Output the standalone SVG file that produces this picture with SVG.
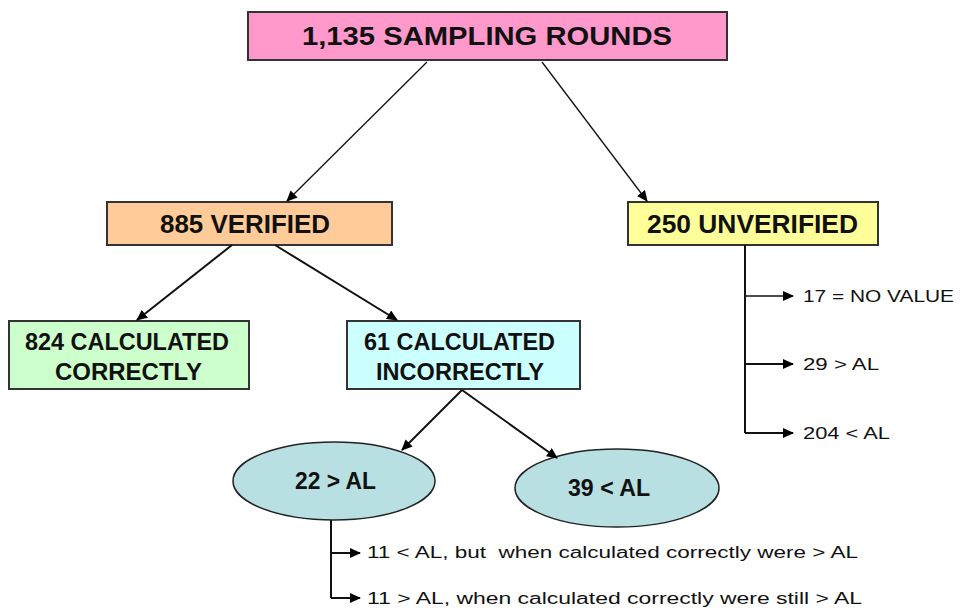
<svg xmlns="http://www.w3.org/2000/svg" width="962" height="610" viewBox="0 0 962 610">
  <defs>
    <marker id="arrow" markerUnits="userSpaceOnUse" markerWidth="12" markerHeight="10" refX="10" refY="5" orient="auto">
      <path d="M0,0 L11,5 L0,10 Z" fill="#000"/>
    </marker>
    <style>
      .box { stroke: #333; stroke-width: 2; }
      .oval { fill: #B8DFE1; stroke: #222; stroke-width: 1.5; }
      .lbl { font-family: "Liberation Sans", Arial, sans-serif; font-weight: bold; fill: #111; text-anchor: start; }
      .note { font-family: "Liberation Sans", Arial, sans-serif; fill: #111; font-size: 16px; }
      .link { stroke: #111; fill: none; marker-end: url(#arrow); }
      .thin { stroke-width: 1.3; }
      .thick { stroke-width: 2; }
      .trunk { stroke: #111; stroke-width: 2; fill: none; }
    </style>
  </defs>

  <!-- root node -->
  <g id="root">
    <rect class="box" x="248" y="12" width="479" height="48" fill="#FF99CC"/>
    <text class="lbl" x="302" y="45" font-size="26" textLength="370" lengthAdjust="spacingAndGlyphs">1,135 SAMPLING ROUNDS</text>
  </g>

  <g id="verified">
    <rect class="box" x="107" y="202" width="285" height="43" fill="#FFCC99"/>
    <text class="lbl" x="160" y="233" font-size="25" textLength="170" lengthAdjust="spacingAndGlyphs">885 VERIFIED</text>
  </g>

  <g id="unverified">
    <rect class="box" x="628" y="202" width="250" height="43" fill="#FFFF99"/>
    <text class="lbl" x="647" y="233" font-size="25" textLength="211" lengthAdjust="spacingAndGlyphs">250 UNVERIFIED</text>
  </g>

  <g id="correct">
    <rect class="box" x="9" y="321" width="240" height="68" fill="#CCFFCC"/>
    <text class="lbl" x="25" y="350" font-size="24" textLength="204" lengthAdjust="spacingAndGlyphs">824 CALCULATED</text>
    <text class="lbl" x="55" y="380" font-size="24" textLength="147" lengthAdjust="spacingAndGlyphs">CORRECTLY</text>
  </g>

  <g id="incorrect">
    <rect class="box" x="347" y="321" width="233" height="68" fill="#CCFFFF"/>
    <text class="lbl" x="364" y="350" font-size="24" textLength="191" lengthAdjust="spacingAndGlyphs">61 CALCULATED</text>
    <text class="lbl" x="376" y="380" font-size="24" textLength="168" lengthAdjust="spacingAndGlyphs">INCORRECTLY</text>
  </g>

  <g id="over-al">
    <ellipse class="oval" cx="334" cy="481" rx="101" ry="39"/>
    <text class="lbl" x="295" y="489" font-size="24" textLength="81" lengthAdjust="spacingAndGlyphs">22 &gt; AL</text>
  </g>

  <g id="under-al">
    <ellipse class="oval" cx="617" cy="488" rx="102" ry="39"/>
    <text class="lbl" x="568" y="496" font-size="24" textLength="82" lengthAdjust="spacingAndGlyphs">39 &lt; AL</text>
  </g>

  <!-- breakdown of the unverified rounds -->
  <g id="unverified-notes">
    <text class="note" x="803" y="302" textLength="151" lengthAdjust="spacingAndGlyphs">17 = NO VALUE</text>
    <text class="note" x="803" y="370" textLength="76" lengthAdjust="spacingAndGlyphs">29 &gt; AL</text>
    <text class="note" x="803" y="439" textLength="87" lengthAdjust="spacingAndGlyphs">204 &lt; AL</text>
  </g>

  <!-- breakdown of the 22 over-limit rounds -->
  <g id="over-al-notes">
    <text class="note" x="367" y="558" xml:space="preserve" textLength="491" lengthAdjust="spacingAndGlyphs">11 &lt; AL, but  when calculated correctly were &gt; AL</text>
    <text class="note" x="367" y="604" textLength="495" lengthAdjust="spacingAndGlyphs">11 &gt; AL, when calculated correctly were still &gt; AL</text>
  </g>

  <g id="connectors">
    <line class="link thin" x1="427" y1="62" x2="287" y2="201"/>
    <line class="link thin" x1="542" y1="62" x2="647" y2="201"/>
    <line class="link thick" x1="232" y1="245" x2="137" y2="320"/>
    <line class="link thick" x1="275" y1="245" x2="397" y2="320"/>
    <line class="link thick" x1="462" y1="390" x2="402" y2="450"/>
    <line class="link thick" x1="462" y1="390" x2="557" y2="458"/>

    <path class="trunk" d="M745,245 V433"/>
    <line class="link thin" x1="745" y1="296" x2="793" y2="296"/>
    <line class="link thick" x1="745" y1="364" x2="793" y2="364"/>
    <line class="link thick" x1="745" y1="433" x2="793" y2="433"/>

    <path class="trunk" d="M331,520 V598"/>
    <line class="link thick" x1="331" y1="553" x2="360" y2="553"/>
    <line class="link thick" x1="331" y1="598" x2="360" y2="598"/>
  </g>
</svg>
